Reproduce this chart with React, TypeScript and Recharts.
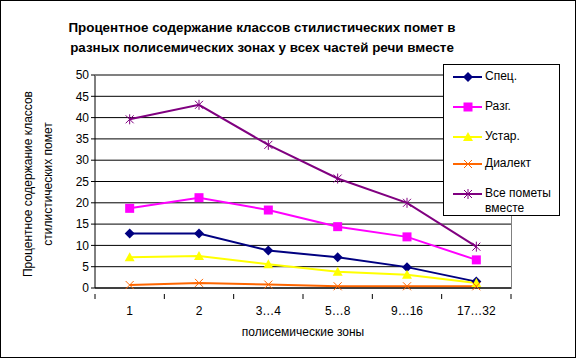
import { LineChart, Line, XAxis, YAxis, CartesianGrid } from 'recharts';

const zones = ['1', '2', '3…4', '5…8', '9…16', '17…32'];
const spec = [12.8, 12.8, 8.8, 7.2, 4.9, 1.5];
const razg = [18.7, 21.2, 18.3, 14.4, 12.0, 6.6];
const ustar = [7.2, 7.5, 5.6, 3.8, 3.1, 1.2];
const dialekt = [0.7, 1.2, 0.8, 0.4, 0.4, 0.4];
const vse = [39.6, 43.0, 33.6, 25.7, 20.0, 9.7];
const yTicks = [0, 5, 10, 15, 20, 25, 30, 35, 40, 45, 50];

const data = zones.map((zone, i) => ({
  zone,
  spec: spec[i],
  razg: razg[i],
  ustar: ustar[i],
  dialekt: dialekt[i],
  vse: vse[i],
}));

const FONT = '"Liberation Sans", Arial, sans-serif';
const BAND = 416 / 6;

type Shape = 'diamond' | 'square' | 'triangle' | 'x' | 'star';

const Marker = ({ cx, cy, shape, color }: { cx: number; cy: number; shape: Shape; color: string }) => {
  if (cx == null || cy == null) return null;
  switch (shape) {
    case 'diamond':
      return <polygon points={`${cx},${cy - 5} ${cx + 5},${cy} ${cx},${cy + 5} ${cx - 5},${cy}`} fill={color} />;
    case 'square':
      return <rect x={cx - 4.5} y={cy - 4.5} width={9} height={9} fill={color} />;
    case 'triangle':
      return <polygon points={`${cx},${cy - 5} ${cx + 5},${cy + 4} ${cx - 5},${cy + 4}`} fill={color} />;
    case 'x':
      return (
        <g stroke={color} strokeWidth={1}>
          <line x1={cx - 4} y1={cy - 4} x2={cx + 4} y2={cy + 4} />
          <line x1={cx - 4} y1={cy + 4} x2={cx + 4} y2={cy - 4} />
        </g>
      );
    default:
      return (
        <g stroke={color} strokeWidth={1}>
          <line x1={cx - 4} y1={cy - 4} x2={cx + 4} y2={cy + 4} />
          <line x1={cx - 4} y1={cy + 4} x2={cx + 4} y2={cy - 4} />
          <line x1={cx} y1={cy - 5} x2={cx} y2={cy + 5} />
        </g>
      );
  }
};

const series: { key: string; name: string[]; color: string; shape: Shape }[] = [
  { key: 'spec', name: ['Спец.'], color: '#000080', shape: 'diamond' },
  { key: 'razg', name: ['Разг.'], color: '#FF00FF', shape: 'square' },
  { key: 'ustar', name: ['Устар.'], color: '#FFFF00', shape: 'triangle' },
  { key: 'dialekt', name: ['Диалект'], color: '#FF6600', shape: 'x' },
  { key: 'vse', name: ['Все пометы', 'вместе'], color: '#800080', shape: 'star' },
];

const XTick = (props: any) => {
  const { x, y, payload, index } = props;
  const base = y - 2;
  return (
    <g>
      <line x1={x - BAND / 2} y1={base} x2={x - BAND / 2} y2={base + 5} stroke="#000" />
      {index === zones.length - 1 && (
        <line x1={x + BAND / 2} y1={base} x2={x + BAND / 2} y2={base + 5} stroke="#000" />
      )}
      <text x={x} y={base + 21} textAnchor="middle" fontSize={12} fontFamily={FONT} fill="#000">
        {payload.value}
      </text>
    </g>
  );
};

const App = () => {
  return (
    <div
      style={{
        position: 'absolute',
        left: 0,
        top: 0,
        width: 576,
        height: 358,
        background: '#fff',
        boxSizing: 'border-box',
        border: '1px solid #000',
        fontFamily: FONT,
      }}
    >
      <div
        style={{
          position: 'absolute',
          left: 0,
          width: 522,
          top: 17,
          textAlign: 'center',
          fontWeight: 'bold',
          fontSize: 13.4,
          lineHeight: '20px',
          color: '#000',
        }}
      >
        Процентное содержание классов стилистических помет в
        <br />
        разных полисемических зонах у всех частей речи вместе
      </div>
      <div style={{ position: 'absolute', left: -1, top: -1 }}>
        <LineChart width={576} height={358} data={data} margin={{ top: 75, right: 65, bottom: 40, left: 0 }}>
          <CartesianGrid vertical={false} stroke="#000" strokeWidth={1} />
          <XAxis
            dataKey="zone"
            scale="band"
            height={30}
            tick={<XTick />}
            tickLine={false}
            axisLine={{ stroke: '#000' }}
            interval={0}
          />
          <YAxis
            width={95}
            domain={[0, 50]}
            ticks={yTicks}
            interval={0}
            tickLine={{ stroke: '#000' }}
            tickSize={4}
            axisLine={{ stroke: '#000' }}
            tick={{ fontSize: 12, fontFamily: FONT, fill: '#000' }}
          />
          {series.map((s) => (
            <Line
              key={s.key}
              dataKey={s.key}
              stroke={s.color}
              strokeWidth={2}
              isAnimationActive={false}
              dot={(p: any) => <Marker key={`${s.key}-${p.index}`} cx={p.cx} cy={p.cy} shape={s.shape} color={s.color} />}
              activeDot={false}
            />
          ))}
        </LineChart>
      </div>
      {/* plot border top and right */}
      <div style={{ position: 'absolute', left: 94, top: 74, width: 416, height: 213, borderTop: '1px solid #808080', borderRight: '1px solid #808080' }} />
      <svg style={{ position: 'absolute', left: 0, top: 0 }} width={80} height={358}>
        <text
          transform="translate(27,183) rotate(-90)"
          textAnchor="middle"
          dominantBaseline="central"
          fontSize={12}
          fontFamily={FONT}
          fill="#000"
        >
          Процентное содержание классов
        </text>
        <text
          transform="translate(47,183) rotate(-90)"
          textAnchor="middle"
          dominantBaseline="central"
          fontSize={12}
          fontFamily={FONT}
          fill="#000"
        >
          стилистических помет
        </text>
      </svg>
      <div
        style={{
          position: 'absolute',
          left: 0,
          width: 604,
          top: 324,
          textAlign: 'center',
          fontSize: 12,
          color: '#000',
        }}
      >
        полисемические зоны
      </div>
      <div
        style={{
          position: 'absolute',
          left: 442,
          top: 63,
          width: 117,
          height: 152,
          border: '1px solid #000',
          background: '#fff',
          boxSizing: 'border-box',
        }}
      >
        {series.map((s, i) => {
          const top = [4, 34, 64, 91, 121][i];
          return (
            <div key={s.key} style={{ position: 'absolute', left: 0, top }}>
              <svg width={40} height={16} style={{ position: 'absolute', left: 0, top: 0 }}>
                <line x1={9} y1={8} x2={38} y2={8} stroke={s.color} strokeWidth={2} />
                <Marker cx={24} cy={8} shape={s.shape} color={s.color} />
              </svg>
              <div style={{ position: 'absolute', left: 41, top: 0, fontSize: 12, lineHeight: '15px', whiteSpace: 'nowrap', color: '#000' }}>
                {s.name.map((n) => (
                  <div key={n}>{n}</div>
                ))}
              </div>
            </div>
          );
        })}
      </div>
    </div>
  );
};

export default App;
